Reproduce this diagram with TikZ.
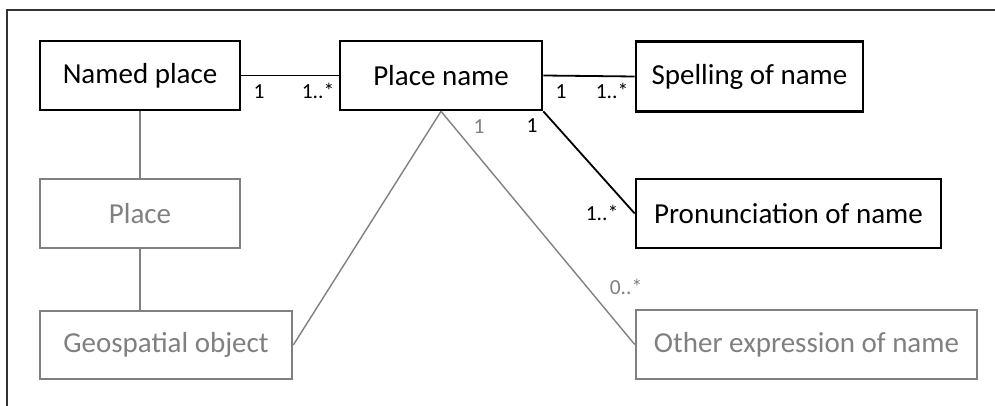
\documentclass[tikz,border=0pt]{standalone}
\usepackage{fontspec}
\setmainfont{Carlito}
\usepackage{xcolor}
\definecolor{faded}{RGB}{128,128,128}

\begin{document}
\begin{tikzpicture}[x=1pt, y=-1pt,
		cls/.style={draw=black, line width=2.6pt, inner sep=0pt, font=\fontsize{29}{32}\selectfont},
		grcls/.style={cls, draw=faded, text=faded},
		mult/.style={anchor=base, inner sep=0pt, font=\fontsize{21.5}{24}\selectfont},
		grmult/.style={mult, text=faded},
		assoc/.style={line width=1.8pt},
		grassoc/.style={line width=1.4pt, faded}]
		\useasboundingbox (0,0) rectangle (995,406);
		\draw [line width=1.3pt, black!80] (7,406) -- (7,10) -- (995,10);
		
		\node[cls, minimum width=200pt, minimum height=69pt] (named) at (140,75.5) {Named place};
		\node[cls, minimum width=202pt, minimum height=69pt] (pname) at (441,75.5) {Place name};
		\node[cls, minimum width=227pt, minimum height=70pt] (spell) at (749.5,76.5) {Spelling of name};
		\node[cls, minimum width=305pt, minimum height=69pt] (pron) at (788.5,213.5) {Pronunciation of name};
		\node[grcls, minimum width=200pt, minimum height=69pt] (place) at (140,213.5) {Place};
		\node[grcls, minimum width=252pt, minimum height=68pt] (geo) at (166,345) {Geospatial object};
		\node[grcls, minimum width=341pt, minimum height=69pt] (other) at (806.5,344.5) {Other expression of name};
		
		\draw [assoc] (named.east) -- (pname.west);
		\draw [assoc] (pname.east) -- (spell.west);
		\draw [assoc] (pname.south east) -- (pron.west);
		\draw [grassoc] (named.south) -- (place.north);
		\draw [grassoc] (place.south) -- (place.south |- geo.north);
		\draw [grassoc] (pname.south) -- (geo.east);
		\draw [grassoc] (pname.south) -- (other.west);
		
		\node[mult] (m1) at (259,99) {1};
		\node[mult] (m2) at (318,99) {1..*};
		\node[mult] (m3) at (561,99) {1};
		\node[mult] (m4) at (612,99) {1..*};
		\node[mult] (m5) at (532,133) {1};
		\node[mult] (m6) at (602,220) {1..*};
		\node[grmult] (m7) at (479,134) {1};
		\node[grmult] (m8) at (626,294) {0..*};
	\end{tikzpicture}
\end{document}
